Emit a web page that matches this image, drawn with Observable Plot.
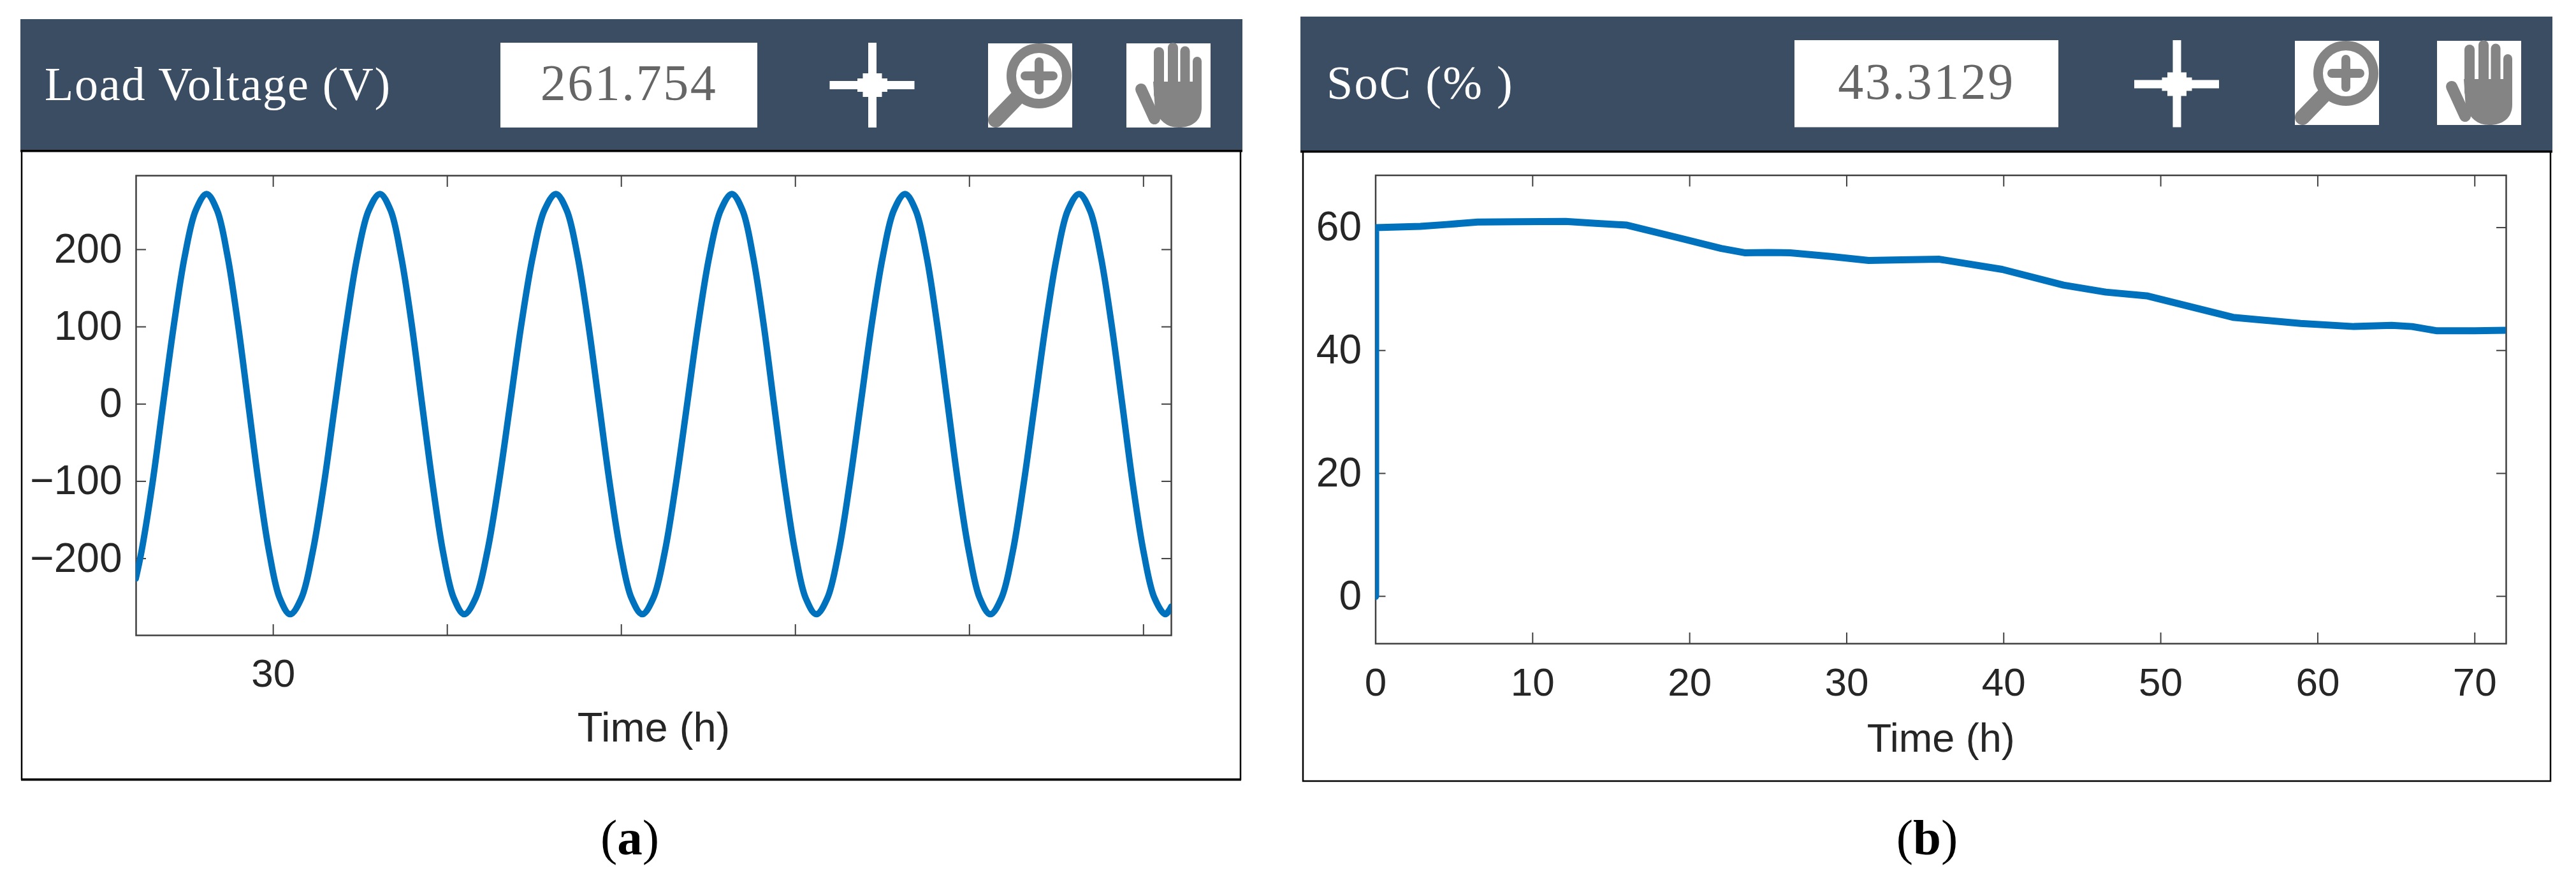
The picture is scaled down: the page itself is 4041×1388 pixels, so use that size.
<!DOCTYPE html>
<html><head><meta charset="utf-8">
<script src="https://cdn.jsdelivr.net/npm/d3@7"></script>
<script src="https://cdn.jsdelivr.net/npm/@observablehq/plot@0.6"></script>
<style>
html,body{margin:0;padding:0;background:#fff;width:4041px;height:1388px;overflow:hidden}
#root{position:relative;width:4041px;height:1388px}
#root>*{position:absolute}
.plot{font-family:"Liberation Sans",Arial,sans-serif;color:#262626}
</style></head><body><div id="root"></div>
<script>
// ---- panel (a): load voltage
const voltTime = [29.21,29.242,29.305,29.367,29.43,29.492,29.555,29.617,29.677,29.737,29.797,29.857,29.917,29.977,30.037,30.097,
30.162,30.226,30.291,30.355,30.42,30.484,30.549,30.613,30.674,30.734,30.795,30.855,30.916,30.976,31.037,31.097,
31.163,31.229,31.295,31.361,31.426,31.492,31.558,31.624,31.686,31.748,31.81,31.872,31.934,31.996,32.058,32.12,
32.184,32.249,32.313,32.378,32.442,32.506,32.571,32.635,32.696,32.756,32.817,32.877,32.938,32.999,33.059,33.12,
33.184,33.248,33.311,33.375,33.439,33.503,33.566,33.63,33.691,33.753,33.814,33.875,33.936,33.998,34.059,34.12,
34.184,34.248,34.311,34.375,34.439,34.503,34.566,34.63,34.692,34.754,34.816,34.878,34.939,35.001,35.063,35.125,35.16];
const voltValue = [-226,-192,-104,0,104,192,251,272,251,192,104,0,-104,-192,-251,-272,
-251,-192,-104,0,104,192,251,272,251,192,104,0,-104,-192,-251,-272,
-251,-192,-104,0,104,192,251,272,251,192,104,0,-104,-192,-251,-272,
-251,-192,-104,0,104,192,251,272,251,192,104,0,-104,-192,-251,-272,
-251,-192,-104,0,104,192,251,272,251,192,104,0,-104,-192,-251,-272,
-251,-192,-104,0,104,192,251,272,251,192,104,0,-104,-192,-251,-272,-262];
const voltXTicks = [30,31,32,33,34,35];
const voltYTicks = [-200,-100,0,100,200];
// ---- panel (b): state of charge
const socTime = [0,0,2.85,4.5,6.5,9,12.1,14,16,19.5,22,23.5,25,26.4,29,31.4,33.5,35.9,39.9,43.8,46.5,49.1,54.6,58.9,62.3,64.7,66,67.6,70,72];
const socValue = [0,60,60.2,60.5,60.9,60.95,61,60.7,60.4,58.2,56.6,55.9,55.95,55.9,55.3,54.65,54.75,54.85,53.2,50.65,49.5,48.9,45.4,44.4,43.9,44.1,43.9,43.2,43.2,43.3];
const socXTicks = [0,10,20,30,40,50,60,70];
const socYTicks = [0,20,40,60];
const BLUE = "#0072BD", AXIS = "#404040", HEAD = "#3A4D63";

const root = document.getElementById("root");
const blank = () => "";
function makePlot(o){
  const xs=o.t.map((t,i)=>({t,v:o.v[i]}));
  const svg = Plot.plot({
    width:o.w,height:o.h,marginLeft:o.ml,marginRight:o.mr,marginTop:o.mt,marginBottom:o.mb,
    style:{background:"transparent",fontFamily:'"Liberation Sans",Arial,sans-serif',overflow:"visible"},
    x:{domain:o.xd},y:{domain:o.yd},
    marks:[
      Plot.axisX(o.xt,{anchor:"bottom",tickSize:-17,tickPadding:o.xpad,fontSize:62,stroke:AXIS,strokeWidth:2,strokeOpacity:1,color:"#262626",
        tickFormat:o.xf,label:null}),
      Plot.axisX(o.xt,{anchor:"top",tickSize:-17,tickFormat:blank,stroke:AXIS,strokeWidth:2,strokeOpacity:1,label:null}),
      Plot.axisY(o.yt,{anchor:"left",tickSize:-16,tickPadding:38,fontSize:64,stroke:AXIS,strokeWidth:2,strokeOpacity:1,label:null}),
      Plot.axisY(o.yt,{anchor:"right",tickSize:-16,tickFormat:blank,stroke:AXIS,strokeWidth:2,strokeOpacity:1,label:null}),
      Plot.text(["Time (h)"],{frameAnchor:"bottom",lineAnchor:"middle",dy:o.ldy,fontSize:o.lfs,fill:"#262626"}),
      Plot.frame({stroke:AXIS,strokeWidth:2.5}),
      Plot.line(xs,{x:"t",y:"v",stroke:BLUE,strokeWidth:o.lw,curve:o.curve,clip:true})
    ]
  });
  svg.style.left=o.l+"px";svg.style.top=o.tp+"px";svg.setAttribute("class",svg.getAttribute("class")+" plot");
  return svg;
}
// chrome (header bars, value boxes, icons, captions)
const NS="http://www.w3.org/2000/svg";
const chrome=document.createElementNS(NS,"svg");
chrome.setAttribute("width",4041);chrome.setAttribute("height",1388);chrome.style.left="0";chrome.style.top="0";
function el(n,a,txt){const e=document.createElementNS(NS,n);for(const k in a)e.setAttribute(k,a[k]);if(txt!=null)e.textContent=txt;chrome.appendChild(e);return e;}
function panel(p){
  el("rect",{x:p.bx0,y:p.headBottom,width:p.bx1-p.bx0,height:p.by1-p.headBottom,fill:"#fff",stroke:"#000","stroke-width":2.5});
  el("rect",{x:p.bx0-1,y:p.by1-1,width:p.bx1-p.bx0+2,height:p.botW,fill:"#000"});
  el("rect",{x:p.hx0,y:p.hy0,width:p.hx1-p.hx0,height:p.headBottom-p.hy0,fill:HEAD});
  el("rect",{x:p.hx0,y:p.headBottom-1,width:p.hx1-p.hx0,height:3.5,fill:"#000"});
  el("text",{x:p.tx,y:p.ty,"font-family":"Liberation Serif","font-size":74,fill:"#fff","letter-spacing":p.ls},p.title);
  el("rect",{x:p.vx,y:p.vy,width:p.vw,height:p.vh,fill:"#fff"});
  el("text",{x:p.vx+p.vw/2,y:p.ty,"font-family":"Liberation Serif","font-size":80,fill:"#666","text-anchor":"middle","letter-spacing":2.5},p.value);
  const c=p.cx,m=p.cy;
  el("rect",{x:c-6.5,y:p.vy,width:13,height:p.vh,fill:"#fff"});
  el("rect",{x:c-67,y:m-6.5,width:133,height:13,fill:"#fff"});
  el("rect",{x:c-23.5,y:m-10.5,width:47,height:21,fill:"#fff"});
  el("rect",{x:c-15,y:m-18.5,width:30,height:37,fill:"#fff"});
  const g=p.mx,h=p.my;
  el("rect",{x:g,y:h,width:132,height:132,fill:"#fff"});
  el("circle",{cx:g+80,cy:h+51,r:43.5,fill:"none",stroke:"#848484","stroke-width":15});
  el("line",{x1:g+44,x2:g+12,y1:h+87,y2:h+120,stroke:"#848484","stroke-width":24,"stroke-linecap":"round"});
  el("path",{d:`M${g+80} ${h+29}V${h+73}M${g+58} ${h+51}H${g+102}`,stroke:"#848484","stroke-width":14,"stroke-linecap":"round",fill:"none"});
  const a=p.hnd,b=p.my;
  el("rect",{x:a,y:b,width:132,height:132,fill:"#fff"});
  [[51,14,16],[73,7,16],[92,12,15],[111,28,14]].forEach(([x,y,w])=>
    el("line",{x1:a+x,x2:a+x,y1:b+y,y2:b+80,stroke:"#848484","stroke-width":w,"stroke-linecap":"round"}));
  el("path",{d:`M${a+42} ${b+60}H${a+118}V${b+100}C${a+118} ${b+122} ${a+102} ${b+132} ${a+82} ${b+132}C${a+62} ${b+132} ${a+52} ${b+120} ${a+45} ${b+105}Z`,fill:"#848484"});
  el("line",{x1:a+23,y1:b+72,x2:a+44,y2:b+118,stroke:"#848484","stroke-width":18,"stroke-linecap":"round"});
  const cap=el("text",{x:p.capx,y:1340,"font-family":"Liberation Serif","font-size":79,fill:"#000","text-anchor":"middle"});
  cap.appendChild(document.createTextNode("("));
  const b2=document.createElementNS(NS,"tspan");b2.setAttribute("font-weight","bold");b2.textContent=p.cap;cap.appendChild(b2);
  cap.appendChild(document.createTextNode(")"));
}
panel({bx0:34,bx1:1946,by1:1222,botW:3.5,hx0:32,hx1:1949,hy0:30,headBottom:236,tx:70,ty:157,ls:1.8,title:"Load Voltage (V)",
  vx:785,vy:67,vw:403,vh:133,value:"261.754",cx:1368.5,cy:133.5,mx:1550,my:68,hnd:1767,capx:988,cap:"a"});
panel({bx0:2044,bx1:4001,by1:1225,botW:2,hx0:2040,hx1:4004,hy0:26,headBottom:237,tx:2081,ty:155,ls:2.3,title:"SoC (% )",
  vx:2815,vy:63,vw:414,vh:136.5,value:"43.3129",cx:3415,cy:132,mx:3600,my:64,hnd:3823,capx:3023,cap:"b"});
root.appendChild(chrome);

root.appendChild(makePlot({t:voltTime,v:voltValue,l:34,tp:238,w:1912,h:984,ml:179,mr:109,mt:37,mb:226,
  xd:[29.212,35.16],yd:[-299.4,295.7],xt:voltXTicks,yt:voltYTicks,xf:d=>d===30?"30":"",xpad:53,ldy:146,lfs:65,lw:10,curve:"catmull-rom"}));
root.appendChild(makePlot({t:socTime,v:socValue,l:2044,tp:238,w:1957,h:987,ml:113.5,mr:70,mt:36.5,mb:216,
  xd:[0,72],yd:[-7.7,68.5],xt:socXTicks,yt:socYTicks,xf:d=>String(d),xpad:54,ldy:149,lfs:63,lw:11,curve:"linear"}));
</script></body></html>
